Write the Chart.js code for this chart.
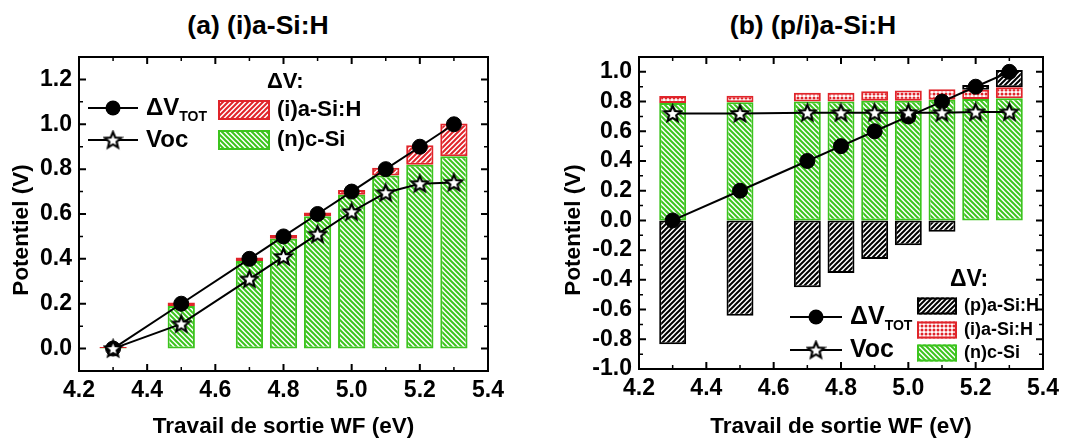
<!DOCTYPE html>
<html>
<head>
<meta charset="utf-8">
<script src="https://cdn.jsdelivr.net/npm/chart.js@4.4.1/dist/chart.umd.min.js"></script>
<style>
  html, body { margin:0; padding:0; background:#fff; }
  body { width:1083px; height:440px; position:relative; overflow:hidden; font-family:"Liberation Sans", Arial, sans-serif; }
  .panel { position:absolute; top:0; height:440px; }
  #pa { left:0; width:540px; }
  #pb { left:540px; width:543px; }
  .ttl { position:absolute; top:9px; width:300px; text-align:center; font-weight:bold; font-size:26.5px; line-height:32px; color:#000; }
</style>
</head>
<body>
<div class="ttl" style="left:108px">(a) (i)a-Si:H</div>
<div class="ttl" style="left:663px">(b) (p/i)a-Si:H</div>
<div class="panel" id="pa"><canvas id="ca"></canvas></div>
<div class="panel" id="pb"><canvas id="cb"></canvas></div>
<script>
// ============ données ============
const WF = [4.3, 4.5, 4.7, 4.8, 4.9, 5.0, 5.1, 5.2, 5.3];
const X_TICKS = [4.2, 4.4, 4.6, 4.8, 5.0, 5.2, 5.4];

// (a) (i)a-Si:H
const DV_TOT_A = [0, 0.2, 0.4, 0.5, 0.6, 0.7, 0.8, 0.9, 1.0];
const VOC_A    = [0, 0.11, 0.31, 0.41, 0.51, 0.61, 0.695, 0.735, 0.74];
const N_CSI_A  = [0.003, 0.19, 0.39, 0.49, 0.59, 0.686, 0.772, 0.82, 0.857];
const I_ASI_A  = [0.004, 0.015, 0.016, 0.016, 0.017, 0.021, 0.034, 0.086, 0.147];
const Y_TICKS_A = [0, 0.2, 0.4, 0.6, 0.8, 1.0, 1.2];

// (b) (p/i)a-Si:H
const DV_TOT_B = [0, 0.2, 0.4, 0.5, 0.6, 0.7, 0.8, 0.9, 1.0];
const VOC_B    = [0.72, 0.72, 0.725, 0.725, 0.725, 0.725, 0.725, 0.73, 0.73];
const N_CSI_B  = [0.79, 0.795, 0.80, 0.80, 0.806, 0.806, 0.813, 0.818, 0.822];
const I_ASI_B  = [0.048, 0.045, 0.06, 0.06, 0.064, 0.068, 0.07, 0.062, 0.075];
const P_ASI_B  = [-0.833, -0.642, -0.45, -0.354, -0.259, -0.167, -0.077, 0.032, 0.116];
const Y_TICKS_B = [-1.0, -0.8, -0.6, -0.4, -0.2, 0, 0.2, 0.4, 0.6, 0.8, 1.0];

const FONT = '"Liberation Sans", Arial, sans-serif';
const GREEN = '#3cc41e', RED = '#e0242a', BLACK = '#000';

// ============ motifs ============
function hatch(color, dir, size, lw) {
  const c = document.createElement('canvas');
  c.width = c.height = size;
  const g = c.getContext('2d');
  g.fillStyle = '#fff'; g.fillRect(0, 0, size, size);
  g.strokeStyle = color; g.lineWidth = lw; g.lineCap = 'square';
  g.beginPath();
  for (let k = -1; k <= 1; k++) {
    if (dir === '/') { g.moveTo(k * size, size); g.lineTo(k * size + size, 0); }
    else { g.moveTo(k * size, 0); g.lineTo(k * size + size, size); }
  }
  g.stroke();
  return g.createPattern(c, 'repeat');
}
function dots(color, size, r) {
  const c = document.createElement('canvas');
  c.width = c.height = size;
  const g = c.getContext('2d');
  g.fillStyle = '#fff'; g.fillRect(0, 0, size, size);
  g.fillStyle = color;
  g.beginPath(); g.arc(size / 2, size / 2, r, 0, Math.PI * 2); g.fill();
  return g.createPattern(c, 'repeat');
}
function starImg(r) {
  const s = Math.ceil(r * 2 + 4);
  const c = document.createElement('canvas');
  c.width = c.height = s;
  const g = c.getContext('2d');
  g.translate(s / 2, s / 2 + 0.6);
  g.beginPath();
  for (let i = 0; i < 10; i++) {
    const rr = i % 2 ? r * 0.45 : r;
    const a = -Math.PI / 2 + i * Math.PI / 5;
    if (i) g.lineTo(rr * Math.cos(a), rr * Math.sin(a)); else g.moveTo(rr * Math.cos(a), rr * Math.sin(a));
  }
  g.closePath();
  g.fillStyle = '#fff'; g.fill();
  g.lineJoin = 'miter'; g.lineWidth = 2.2; g.strokeStyle = '#000'; g.stroke();
  return c;
}

const PAT_N = hatch(GREEN, '\\', 5, 2);
const PAT_I_A = hatch(RED, '/', 5, 2);
const PAT_I_B = dots(RED, 4, 1.5);
const PAT_P = hatch(BLACK, '/', 5, 2);
const STAR = starImg(8.5);

const pts = (xs, ys) => xs.map((x, i) => ({x, y: ys[i]}));

// ============ cadre + graduations + titre Y ============
const framePlugin = {
  id: 'frame',
  afterDraw(chart, args, opts) {
    const {ctx, chartArea: a, scales: {x, y}} = chart;
    ctx.save();
    ctx.strokeStyle = '#000';
    const draw = (scale, majors, horiz) => {
      const st = (majors[1] - majors[0]) / 2;
      for (let v = majors[0] - 4 * st; v <= majors[majors.length - 1] + 4 * st + 1e-9; v += st) {
        if (v <= scale.min + 1e-6 || v >= scale.max - 1e-6) continue;
        const major = majors.some(m => Math.abs(m - v) < 1e-6);
        const len = major ? 7 : 4;
        const p = scale.getPixelForValue(v);
        ctx.lineWidth = major ? 2 : 1.5;
        ctx.beginPath();
        if (horiz) {
          ctx.moveTo(p, a.bottom); ctx.lineTo(p, a.bottom - len);
          ctx.moveTo(p, a.top); ctx.lineTo(p, a.top + len);
        } else {
          ctx.moveTo(a.left, p); ctx.lineTo(a.left + len, p);
          ctx.moveTo(a.right, p); ctx.lineTo(a.right - len, p);
        }
        ctx.stroke();
      }
    };
    draw(x, opts.xTicks, true);
    draw(y, opts.yTicks, false);
    ctx.lineWidth = 2;
    ctx.strokeRect(a.left, a.top, a.right - a.left, a.bottom - a.top);

    // titre de l'axe Y (décalé vers le bas comme dans l'original)
    ctx.translate(opts.yTitle.x, opts.yTitle.y);
    ctx.rotate(-Math.PI / 2);
    ctx.fillStyle = '#000';
    ctx.font = `bold 22.5px ${FONT}`;
    ctx.textAlign = 'center';
    ctx.textBaseline = 'middle';
    ctx.fillText('Potentiel (V)', 0, 0);
    ctx.restore();
  }
};

// ============ légende ============
const legendPlugin = {
  id: 'dvLegend',
  afterDraw(chart, args, o) {
    const ctx = chart.ctx;
    ctx.save();
    ctx.fillStyle = '#000';
    ctx.textBaseline = 'middle';
    ctx.font = `bold ${o.head.size}px ${FONT}`;
    ctx.fillText('ΔV:', o.head.x, o.head.y);

    // séries ligne
    o.lines.forEach(l => {
      ctx.strokeStyle = '#000'; ctx.lineWidth = 2;
      ctx.beginPath(); ctx.moveTo(l.x, l.y); ctx.lineTo(l.x + o.lineLen, l.y); ctx.stroke();
      const mx = l.x + o.lineLen / 2;
      if (l.kind === 'dv') {
        ctx.fillStyle = '#000';
        ctx.beginPath(); ctx.arc(mx, l.y, 7.5, 0, Math.PI * 2); ctx.fill();
        ctx.font = `bold ${o.lineFont}px ${FONT}`;
        ctx.fillText('ΔV', l.x + o.lineLen + 8, l.y);
        const w = ctx.measureText('ΔV').width;
        ctx.font = `bold ${Math.round(o.lineFont * 0.58)}px ${FONT}`;
        ctx.fillText('TOT', l.x + o.lineLen + 8 + w, l.y + o.lineFont * 0.38);
      } else {
        ctx.drawImage(STAR, mx - STAR.width / 2, l.y - STAR.height / 2);
        ctx.fillStyle = '#000';
        ctx.font = `bold ${o.lineFont}px ${FONT}`;
        ctx.fillText('Voc', l.x + o.lineLen + 8, l.y);
      }
    });

    // séries barres
    o.bars.forEach(b => {
      ctx.fillStyle = b.fill;
      ctx.fillRect(o.barX, b.y - o.barH / 2, o.barW, o.barH);
      ctx.strokeStyle = b.stroke; ctx.lineWidth = 2;
      ctx.strokeRect(o.barX + 1, b.y - o.barH / 2 + 1, o.barW - 2, o.barH - 2);
      ctx.fillStyle = '#000';
      ctx.font = `bold ${o.barFont}px ${FONT}`;
      ctx.fillText(b.text, o.barX + o.barW + 7, b.y);
    });
    ctx.restore();
  }
};

// ============ construction ============
function makeChart(id, cfg) {
  const tickFont = {family: FONT, size: 23, weight: 'bold'};
  const titleFont = {family: FONT, size: 22.5, weight: 'bold'};
  return new Chart(document.getElementById(id), {
    type: 'bar',
    data: {datasets: cfg.datasets},
    options: {
      responsive: true,
      maintainAspectRatio: false,
      animation: false,
      events: [],
      layout: {padding: {top: 57, right: cfg.padRight, left: 0, bottom: 0}},
      plugins: {
        legend: {display: false},
        tooltip: {enabled: false},
        frame: {xTicks: X_TICKS, yTicks: cfg.yTicks, yTitle: cfg.yTitle},
        dvLegend: cfg.legend
      },
      scales: {
        x: {
          type: 'linear', min: 4.2, max: 5.4, offset: false, stacked: true,
          afterBuildTicks: s => { s.ticks = X_TICKS.map(v => ({value: v})); },
          afterFit: s => { s.height = cfg.xHeight; },
          grid: {display: false, drawTicks: false, offset: false},
          border: {display: false},
          ticks: {color: '#000', font: tickFont, padding: 6, maxRotation: 0, autoSkip: false,
                  callback: v => Number(v).toFixed(1)},
          title: {display: true, text: 'Travail de sortie WF (eV)', color: '#000', font: titleFont,
                  padding: {top: 0, bottom: 0}}
        },
        y: {
          type: 'linear', min: cfg.yMin, max: cfg.yMax, stacked: true,
          afterBuildTicks: s => { s.ticks = cfg.yTicks.map(v => ({value: v})); },
          afterFit: s => { s.width = cfg.yWidth; },
          grid: {display: false, drawTicks: false},
          border: {display: false},
          ticks: {color: '#000', font: tickFont, padding: 7,
                  callback: v => Number(v).toFixed(1)},
          title: {display: false}
        }
      }
    },
    plugins: [framePlugin, legendPlugin]
  });
}

const barBase = {type: 'bar', stack: 'dv', borderWidth: 2, borderSkipped: false,
                 categoryPercentage: 0.8, barPercentage: 1.0, order: 1};
const vocLine = data => ({type: 'line', label: 'Voc', data, stack: 'voc', order: 0,
  borderColor: '#000', borderWidth: 2, fill: false, pointStyle: STAR, pointRadius: 9});
const dvLine = data => ({type: 'line', label: 'ΔV TOT', data, stack: 'dvtot', order: 0,
  borderColor: '#000', borderWidth: 2, fill: false, pointStyle: 'circle', pointRadius: 7.5,
  pointBackgroundColor: '#000', pointBorderColor: '#000', pointBorderWidth: 1});

makeChart('ca', {
  yMin: -0.1, yMax: 1.3, yTicks: Y_TICKS_A,
  padRight: 52, yWidth: 79, xHeight: 69, yTitle: {x: 22, y: 230},
  datasets: [
    vocLine(pts(WF, VOC_A)),
    dvLine(pts(WF, DV_TOT_A)),
    {...barBase, label: '(n)c-Si', data: pts(WF, N_CSI_A), backgroundColor: PAT_N, borderColor: GREEN},
    {...barBase, label: '(i)a-Si:H', data: pts(WF, I_ASI_A), backgroundColor: PAT_I_A, borderColor: RED}
  ],
  legend: {
    head: {x: 267, y: 82, size: 22},
    lines: [{kind: 'dv', x: 88, y: 108}, {kind: 'voc', x: 88, y: 140}],
    lineLen: 50, lineFont: 24,
    barX: 218, barW: 52, barH: 20, barFont: 22,
    bars: [{text: '(i)a-Si:H', y: 110, fill: PAT_I_A, stroke: RED},
           {text: '(n)c-Si', y: 140, fill: PAT_N, stroke: GREEN}]
  }
});

makeChart('cb', {
  yMin: -1.0, yMax: 1.1, yTicks: Y_TICKS_B,
  padRight: 40, yWidth: 99, xHeight: 71, yTitle: {x: 34, y: 230},
  datasets: [
    vocLine(pts(WF, VOC_B)),
    dvLine(pts(WF, DV_TOT_B)),
    {...barBase, label: '(n)c-Si', data: pts(WF, N_CSI_B), backgroundColor: PAT_N, borderColor: GREEN},
    {...barBase, label: '(i)a-Si:H', data: pts(WF, I_ASI_B), backgroundColor: PAT_I_B, borderColor: RED},
    {...barBase, label: '(p)a-Si:H', data: pts(WF, P_ASI_B), backgroundColor: PAT_P, borderColor: BLACK}
  ],
  legend: {
    head: {x: 410, y: 280, size: 23},
    lines: [{kind: 'dv', x: 250, y: 317}, {kind: 'voc', x: 250, y: 350}],
    lineLen: 52, lineFont: 25,
    barX: 377, barW: 40, barH: 17, barFont: 18,
    bars: [{text: '(p)a-Si:H', y: 306, fill: PAT_P, stroke: BLACK},
           {text: '(i)a-Si:H', y: 330, fill: PAT_I_B, stroke: RED},
           {text: '(n)c-Si', y: 353, fill: PAT_N, stroke: GREEN}]
  }
});
</script>
</body>
</html>
